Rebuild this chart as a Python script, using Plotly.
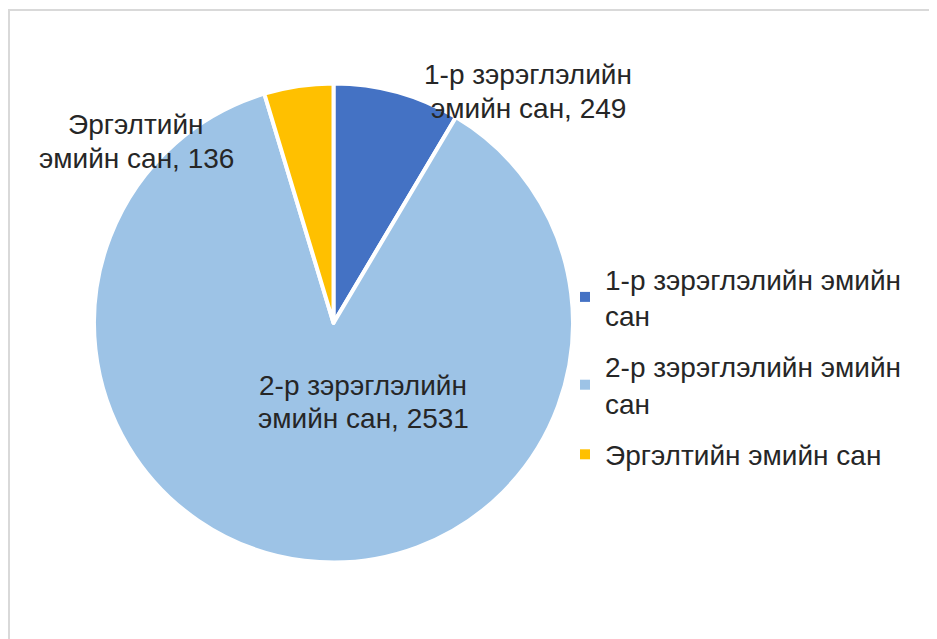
import plotly.graph_objects as go

# data
categories = ["1-р зэрэглэлийн эмийн сан", "2-р зэрэглэлийн эмийн сан", "Эргэлтийн эмийн сан"]
legend_names = ["1-р зэрэглэлийн эмийн<br>сан", "2-р зэрэглэлийн эмийн<br>сан", "Эргэлтийн эмийн сан"]
values = [249, 2531, 136]
colors = ["#4472C4", "#9DC3E6", "#FFC000"]
# data label text, wrapped on two lines like the original
label_lines = [("1-р зэрэглэлийн", "эмийн сан"), ("2-р зэрэглэлийн", "эмийн сан"), ("Эргэлтийн", "эмийн сан")]
# label centres in px (first line), from the top-left of the figure
label_px = [(520, 67), (355, 377), (128, 117)]
line_gap = 33

W, H = 937, 639
fnt = "Liberation Sans, Arial, sans-serif"
txt = "#262626"

fig = go.Figure()
fig.add_trace(go.Pie(
    labels=categories,
    values=values,
    sort=False,
    direction="clockwise",
    rotation=0,
    marker=dict(colors=colors, line=dict(color="white", width=4)),
    textinfo="none",
    hoverinfo="label+value",
    showlegend=False,
    domain=dict(x=[86 / W, 565 / W], y=[1 - 555 / H, 1 - 75 / H]),
))

# legend entries (one per category so the gap between them can be set)
for name, c in zip(legend_names, colors):
    fig.add_trace(go.Scatter(
        x=[None], y=[None], mode="markers", name=name, legendgroup=name,
        marker=dict(symbol="square", size=10, color=c), hoverinfo="skip",
    ))

anns = []
for (l1, l2), v, (px, py) in zip(label_lines, values, label_px):
    for i, t in enumerate([l1, f"{l2}, {v}"]):
        anns.append(dict(
            text=t, x=px / W, y=1 - (py + i * line_gap) / H, xref="paper", yref="paper",
            showarrow=False, xanchor="center", yanchor="middle",
            font=dict(family=fnt, size=28, color=txt),
        ))

fig.update_layout(
    width=W, height=H,
    margin=dict(l=0, r=0, t=0, b=0),
    paper_bgcolor="white",
    plot_bgcolor="rgba(0,0,0,0)",
    font=dict(family=fnt, size=28, color=txt),
    annotations=anns,
    xaxis=dict(visible=False),
    yaxis=dict(visible=False),
    legend=dict(x=557 / W, y=1 - 246 / H, xanchor="left", yanchor="top",
                bgcolor="rgba(0,0,0,0)",
                font=dict(family=fnt, size=28, color=txt),
                traceorder="grouped", tracegroupgap=12, itemwidth=30),
    shapes=[dict(type="rect", xref="paper", yref="paper",
                 x0=1 / W, x1=1.02, y0=-0.02, y1=1 - 2 / H,
                 line=dict(color="#D9D9D9", width=2))],
)

fig.write_html("out.html")
